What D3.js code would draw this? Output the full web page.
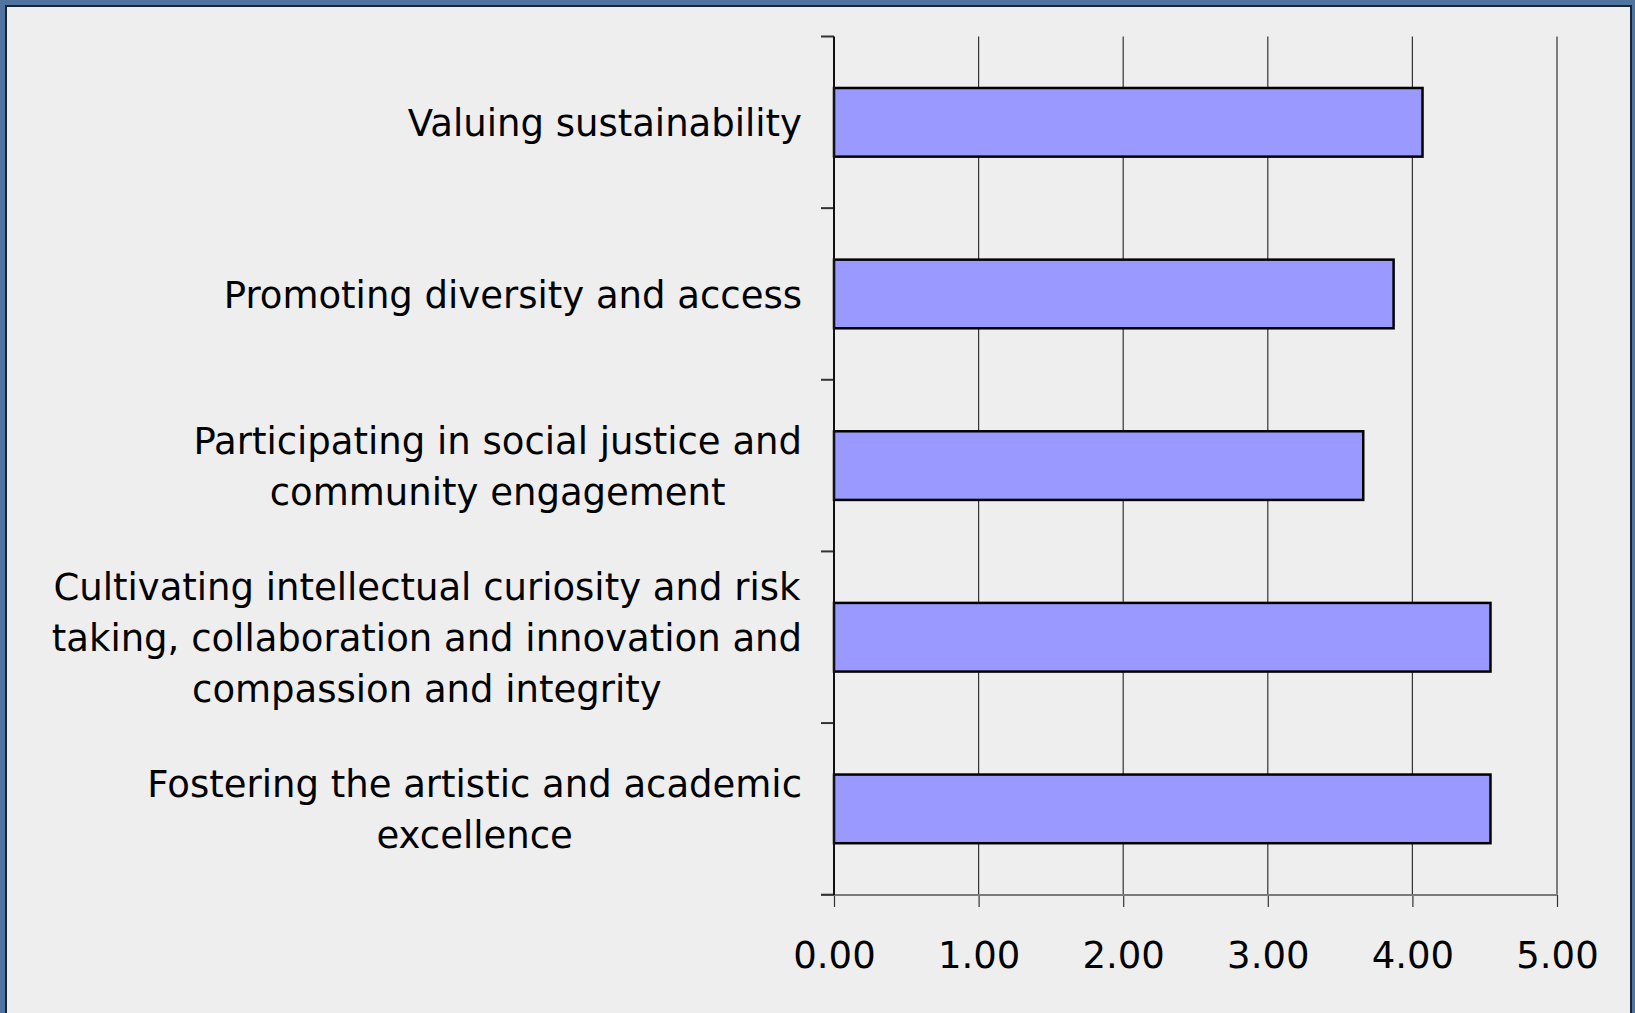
<!DOCTYPE html>
<html><head><meta charset="utf-8">
<script src="https://cdn.jsdelivr.net/npm/d3@7"></script>
<style>
html,body{margin:0;padding:0;background:#4f74a0;}
svg{display:block;}
</style></head>
<body>
<svg id="chart" width="1635" height="1013"></svg>
<script>
const categories = [
  ["Valuing sustainability"],
  ["Promoting diversity and access"],
  ["Participating in social justice and", "community engagement"],
  ["Cultivating intellectual curiosity and risk", "taking, collaboration and innovation and", "compassion and integrity"],
  ["Fostering the artistic and academic", "excellence"]
];
const values = [4.07, 3.87, 3.66, 4.54, 4.54];
const tickValues = [0, 1, 2, 3, 4, 5];
const tickLabels = ["0.00", "1.00", "2.00", "3.00", "4.00", "5.00"];

const W = 1635, H = 1013;
const svg = d3.select("#chart");
const FONT = "'DejaVu Sans', sans-serif";

// frame
svg.append("rect").attr("x",0).attr("y",0).attr("width",W).attr("height",H).attr("fill","#4f74a0");
svg.append("rect").attr("x",5).attr("y",5).attr("width",W-8).attr("height",H).attr("fill","#1c2433");
svg.append("rect").attr("x",7).attr("y",7).attr("width",W-12).attr("height",H).attr("fill","#eeeeee");

const x = d3.scaleLinear().domain([0,5]).range([834, 1557]);
const y = d3.scaleBand().domain(d3.range(categories.length)).range([36.5, 894.7]).paddingInner(0.6).paddingOuter(0.3);
const yFull = d3.scaleBand().domain(d3.range(categories.length)).range([36.5, 894.7]).padding(0);

// gridlines
svg.append("g").selectAll("line").data(tickValues.slice(1)).join("line")
  .attr("x1", d=>x(d)).attr("x2", d=>x(d)).attr("y1", 36.5).attr("y2", 894.7)
  .attr("stroke","#333").attr("stroke-width",1.2);

// x axis
const xAxis = d3.axisBottom(x).tickValues(tickValues).tickFormat((d,i)=>tickLabels[i]).tickSize(12).tickPadding(35);
const gx = svg.append("g").attr("transform","translate(0,895)").call(xAxis);
gx.select(".domain").remove();
gx.selectAll(".tick line").attr("stroke","#333").attr("stroke-width",1.2);
gx.selectAll(".tick text").attr("font-family",FONT).attr("font-size",37).attr("fill","#000");
svg.append("line").attr("x1",821).attr("x2",1557).attr("y1",895).attr("y2",895).attr("stroke","#7a7a7a").attr("stroke-width",2);

// y axis ticks (band boundaries)
const bounds = d3.range(categories.length+1).map(i => i < categories.length ? yFull(i) : yFull(categories.length-1)+yFull.bandwidth());
svg.append("g").selectAll("line").data(bounds).join("line")
  .attr("x1",821).attr("x2",834).attr("y1",d=>d).attr("y2",d=>d)
  .attr("stroke","#333").attr("stroke-width",2);

// bars
svg.append("g").selectAll("rect").data(values).join("rect")
  .attr("x", x(0)).attr("y",(d,i)=>y(i))
  .attr("width", d=>x(d)-x(0)).attr("height", y.bandwidth())
  .attr("fill","#9999ff").attr("stroke","#000").attr("stroke-width",2.5);

// y axis line
svg.append("line").attr("x1",834).attr("x2",834).attr("y1",36.5).attr("y2",895).attr("stroke","#111").attr("stroke-width",2);

// category labels
const lineH = 51, fs = 37, rightEdge = 802;
categories.forEach((lines, i) => {
  const cy = yFull(i) + yFull.bandwidth()/2;
  const g = svg.append("g");
  const texts = lines.map((t, j) => g.append("text")
    .attr("font-family",FONT).attr("font-size",fs).attr("fill","#000")
    .attr("text-anchor","middle")
    .attr("y", cy + (j - (lines.length-1)/2)*lineH + fs*0.37)
    .text(t));
  const maxW = d3.max(texts, t => t.node().getComputedTextLength());
  texts.forEach(t => t.attr("x", rightEdge - maxW/2));
});
</script>
</body></html>
